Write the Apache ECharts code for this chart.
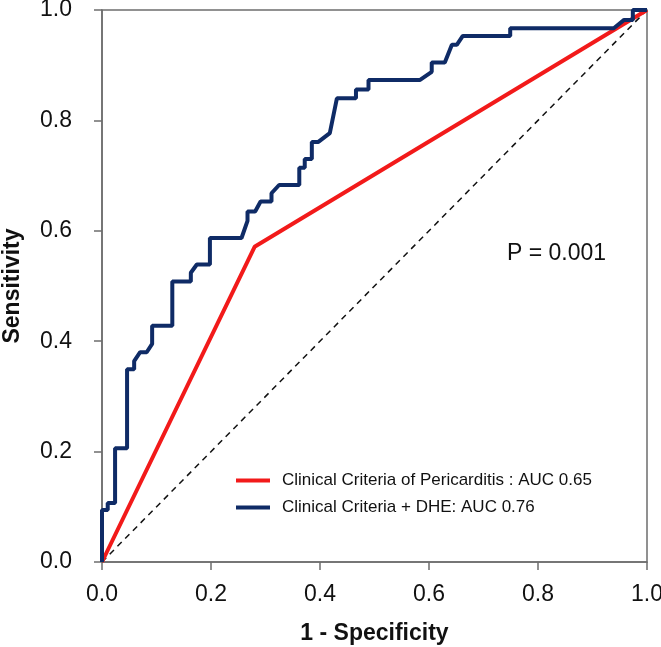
<!DOCTYPE html>
<html>
<head>
<meta charset="utf-8">
<script src="https://cdn.jsdelivr.net/npm/echarts@6/dist/echarts.min.js"></script>
<style>
  html, body { margin: 0; padding: 0; background: #fff; }
  #chart { width: 661px; height: 647px; }
</style>
</head>
<body>
<div id="chart"></div>
<script>
  // ROC curves, x = 1 - specificity, y = sensitivity
  const dheX = [0, 0, 0.0105, 0.0105, 0.024, 0.024, 0.046, 0.046, 0.059, 0.059, 0.070, 0.082, 0.092, 0.092,
    0.129, 0.129, 0.163, 0.163, 0.174, 0.198, 0.198, 0.256, 0.267, 0.267, 0.281, 0.291, 0.311, 0.311,
    0.325, 0.362, 0.362, 0.372, 0.372, 0.385, 0.385, 0.397, 0.418, 0.431, 0.466, 0.466, 0.489, 0.489,
    0.583, 0.605, 0.605, 0.629, 0.642, 0.651, 0.662, 0.749, 0.749, 0.939, 0.958, 0.974, 0.974, 1.0]
  const dheY = [0, 0.094, 0.094, 0.107, 0.107, 0.206, 0.206, 0.349, 0.349, 0.364, 0.380, 0.380, 0.395, 0.428,
    0.428, 0.508, 0.508, 0.524, 0.539, 0.539, 0.587, 0.587, 0.618, 0.635, 0.635, 0.653, 0.653, 0.668,
    0.683, 0.683, 0.714, 0.714, 0.730, 0.730, 0.761, 0.761, 0.777, 0.840, 0.840, 0.856, 0.856, 0.873,
    0.873, 0.888, 0.905, 0.905, 0.937, 0.937, 0.953, 0.953, 0.967, 0.967, 0.982, 0.982, 1.0, 1.0]
  const clinX = [0, 0.28, 1]
  const clinY = [0, 0.571, 1]
  const refX = [0, 1]
  const refY = [0, 1]
  const axisTicks = [0, 0.2, 0.4, 0.6, 0.8, 1.0]

  const nameClin = 'Clinical Criteria of Pericarditis : AUC 0.65'
  const nameDhe = 'Clinical Criteria + DHE: AUC 0.76'

  const zip = (xs, ys) => xs.map((x, i) => [x, ys[i]])
  const font = 'Liberation Sans, Arial, sans-serif'

  const chart = echarts.init(document.getElementById('chart'))
  chart.setOption({
    animation: false,
    backgroundColor: '#fff',
    grid: {
      left: 102, right: 14, top: 10, bottom: 85,
      outerBoundsMode: 'none',
      containLabel: false,
      show: true, borderColor: '#6e6e6e', borderWidth: 1.5
    },
    legend: {
      orient: 'vertical',
      left: 236,
      top: 472,
      padding: 0,
      itemGap: 10,
      itemWidth: 34,
      itemHeight: 4,
      icon: 'rect',
      data: [nameClin, nameDhe],
      textStyle: { fontFamily: font, fontSize: 17, color: '#111', padding: [0, 0, 0, 7] }
    },
    graphic: [{
      type: 'text',
      left: 507,
      top: 242,
      style: { text: 'P = 0.001', font: '23px ' + font, fill: '#111' }
    }],
    xAxis: {
      type: 'value',
      min: 0, max: 1, interval: 0.2,
      name: '1 - Specificity',
      nameLocation: 'middle',
      nameGap: 60,
      nameTextStyle: { fontFamily: font, fontSize: 23, fontWeight: 'bold', color: '#111' },
      axisLine: { lineStyle: { color: '#6e6e6e', width: 1.5 } },
      axisTick: { length: 8, lineStyle: { color: '#6e6e6e', width: 1.5 } },
      splitLine: { show: false },
      axisLabel: {
        margin: 21, fontFamily: font, fontSize: 23, color: '#111',
        formatter: v => axisTicks.includes(+v.toFixed(1)) ? v.toFixed(1) : ''
      }
    },
    yAxis: {
      type: 'value',
      min: 0, max: 1, interval: 0.2,
      name: 'Sensitivity',
      nameLocation: 'middle',
      nameGap: 78,
      nameTextStyle: { fontFamily: font, fontSize: 23, fontWeight: 'bold', color: '#111' },
      axisLine: { show: true, lineStyle: { color: '#6e6e6e', width: 1.5 } },
      axisTick: { show: true, length: 8, lineStyle: { color: '#6e6e6e', width: 1.5 } },
      splitLine: { show: false },
      axisLabel: {
        margin: 30, fontFamily: font, fontSize: 23, color: '#111',
        formatter: v => v.toFixed(1)
      }
    },
    series: [{
      name: 'reference',
      type: 'line',
      data: zip(refX, refY),
      showSymbol: false,
      silent: true,
      lineStyle: { color: '#111', width: 1.5, type: [6, 5] },
      z: 1
    }, {
      name: nameClin,
      type: 'line',
      data: zip(clinX, clinY),
      showSymbol: false,
      color: '#f21a1a',
      lineStyle: { color: '#f21a1a', width: 4 },
      z: 2
    }, {
      name: nameDhe,
      type: 'line',
      data: zip(dheX, dheY),
      showSymbol: false,
      color: '#0f2b66',
      lineStyle: { color: '#0f2b66', width: 4 },
      z: 3
    }]
  })
</script>
</body>
</html>
